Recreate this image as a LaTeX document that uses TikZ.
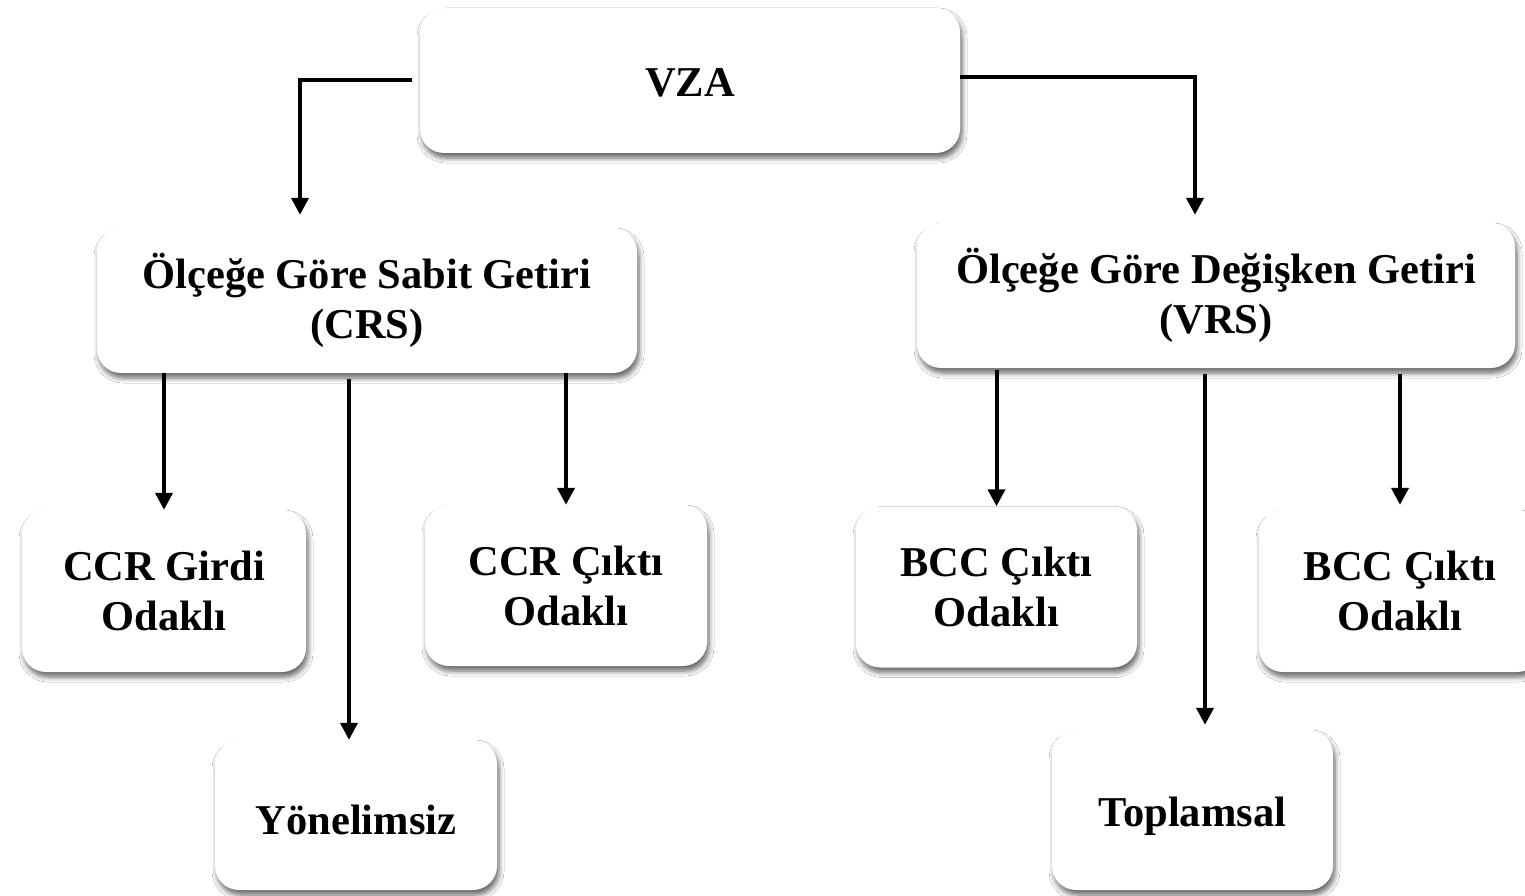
\documentclass[tikz,border=0pt]{standalone}
\usepackage{fontspec}
\setmainfont{Liberation Serif}
\usetikzlibrary{arrows.meta,shadows.blur}
\newcommand{\lowr}[2]{\raisebox{-#1}[\height][\depth]{#2}}
\tikzset{
  box/.style={rounded corners=24pt, fill=white, draw=none, align=center,
    font=\fontsize{42.5}{50}\selectfont\bfseries, inner sep=0pt,
    blur shadow={shadow xshift=2pt, shadow yshift=-5pt, shadow blur steps=6, shadow blur radius=5pt, shadow opacity=60}},
  arr/.style={line width=4pt, -{Triangle[width=17pt,length=17pt]}},
}
\begin{document}
\begin{tikzpicture}[x=1pt,y=-1pt]
\useasboundingbox[fill=white] (0,0) rectangle (1525,896);
\node[box, minimum width=540pt, minimum height=145pt] (vza) at (690,80.5) {\lowr{2pt}{VZA}};
\node[box, minimum width=540pt, minimum height=145pt] (crs) at (367,300.5) {Ölçeğe Göre Sabit Getiri\\(CRS)};
\node[box, minimum width=598pt, minimum height=145pt] (vrs) at (1216,295.5) {Ölçeğe Göre Değişken Getiri\\(VRS)};
\node[box, minimum width=284pt, minimum height=162pt] (girdi) at (164,591) {CCR Girdi\\Odaklı};
\node[box, minimum width=282pt, minimum height=161pt] (cikti) at (566,585.5) {CCR Çıktı\\Odaklı};
\node[box, minimum width=282pt, minimum height=150pt] (yon) at (356,815) {\lowr{5pt}{Yönelimsiz}};
\node[box, minimum width=281pt, minimum height=161pt] (bccl) at (996.5,587) {BCC Çıktı\\Odaklı};
\node[box, minimum width=282pt, minimum height=162pt] (bccr) at (1400,591) {BCC Çıktı\\Odaklı};
\node[box, minimum width=281pt, minimum height=160pt] (top) at (1192.5,810) {\lowr{6pt}{Toplamsal}};
% connectors
\coordinate (crsin) at ([xshift=-67pt]crs.north);
\coordinate (vrsin) at ([xshift=-21pt]vrs.north);
\draw[arr, shorten >=13pt] ([xshift=-8pt]vza.west) -| (crsin);
\draw[arr, shorten >=8pt] ([yshift=3pt]vza.east) -| (vrsin);
\draw[arr] (girdi.north |- crs.south) -- (girdi.north);
\coordinate (yonin) at ([xshift=-7pt]yon.north);
\draw[arr] ([yshift=-6pt]yonin |- crs.south) -- (yonin);
\draw[arr] (cikti.north |- crs.south) -- (cikti.north);
\draw[arr] ([yshift=-2pt]bccl.north |- vrs.south) -- (bccl.north);
\coordinate (topin) at ([xshift=12.5pt]top.north);
\draw[arr] ([yshift=-6pt]topin |- vrs.south) -- ([yshift=5pt]topin);
\draw[arr] ([yshift=-6pt]bccr.north |- vrs.south) -- ([yshift=5pt]bccr.north);
\end{tikzpicture}
\end{document}
